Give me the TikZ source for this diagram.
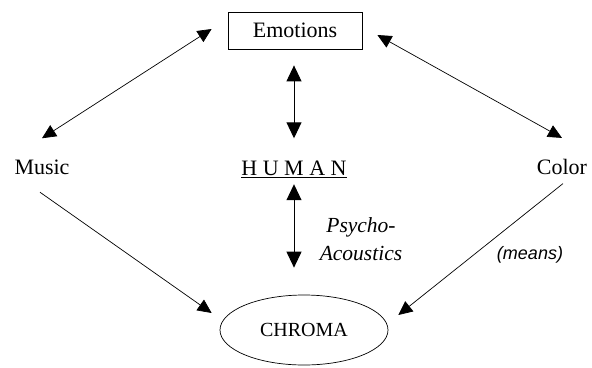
\documentclass[tikz,border=0pt]{standalone}
\usepackage{fontspec}
\setmainfont{Liberation Serif}
\newfontfamily\arialfont{Liberation Sans}
\usetikzlibrary{arrows.meta,shapes.geometric}

\begin{document}
\begin{tikzpicture}[x=1pt, y=-1pt, line width=0.7pt,
  >={Triangle[length=14pt,width=13pt]},
  big/.style={>={Triangle[length=16pt,width=15pt]}, line width=1pt},
  lbl/.style={inner sep=0pt, font=\fontsize{22}{26}\selectfont}]

  \useasboundingbox (0,0) rectangle (592,367);

  \node[lbl, draw, line width=0.8pt, minimum width=134pt, minimum height=37pt] (emo) at (295,30.5) {Emotions};
  \node[lbl] (music) at (42,167) {Music};
  \node[lbl] (color) at (562,167) {Color};
  \node[lbl] (human) at (294,169) {\underline{H U M A N}};
  \node[draw, ellipse, inner sep=0pt, minimum width=168pt, minimum height=70pt,
        font=\fontsize{20}{24}\selectfont] (chroma) at (304,330) {CHROMA};

  \node[inner sep=0pt, align=center, font=\fontsize{21.5}{28}\selectfont\itshape] (psy) at (361,239) {Psycho-\\Acoustics};
  \node[inner sep=0pt, font=\arialfont\itshape\fontsize{18}{20}\selectfont] (means) at (530,255) {(means)};

  \draw[<->] ([yshift=21pt]music.north) -- ([xshift=-16pt,yshift=1.5pt]emo.west); %% Music<->Emotions
  \draw[<->] ([xshift=15pt,yshift=-4.5pt]emo.east) -- ([yshift=21pt]color.north); %% Emotions<->Color

  \draw[<->, big] ([xshift=-1pt,yshift=-16pt]emo.south) -- ([yshift=22pt]human.north); %% Emotions<->HUMAN
  \draw[<->, big] ([yshift=-6.5pt]human.south) -- ([xshift=-10pt,yshift=27pt]chroma.north); %% HUMAN<->CHROMA

  \draw[->] ([xshift=-2pt,yshift=-17.5pt]music.south) -- ([xshift=-8pt,yshift=17pt]chroma.west); %% Music->CHROMA
  \draw[->] ([xshift=1pt,yshift=-8.5pt]color.south) -- ([xshift=10pt,yshift=15pt]chroma.east); %% Color->CHROMA
\end{tikzpicture}
\end{document}
